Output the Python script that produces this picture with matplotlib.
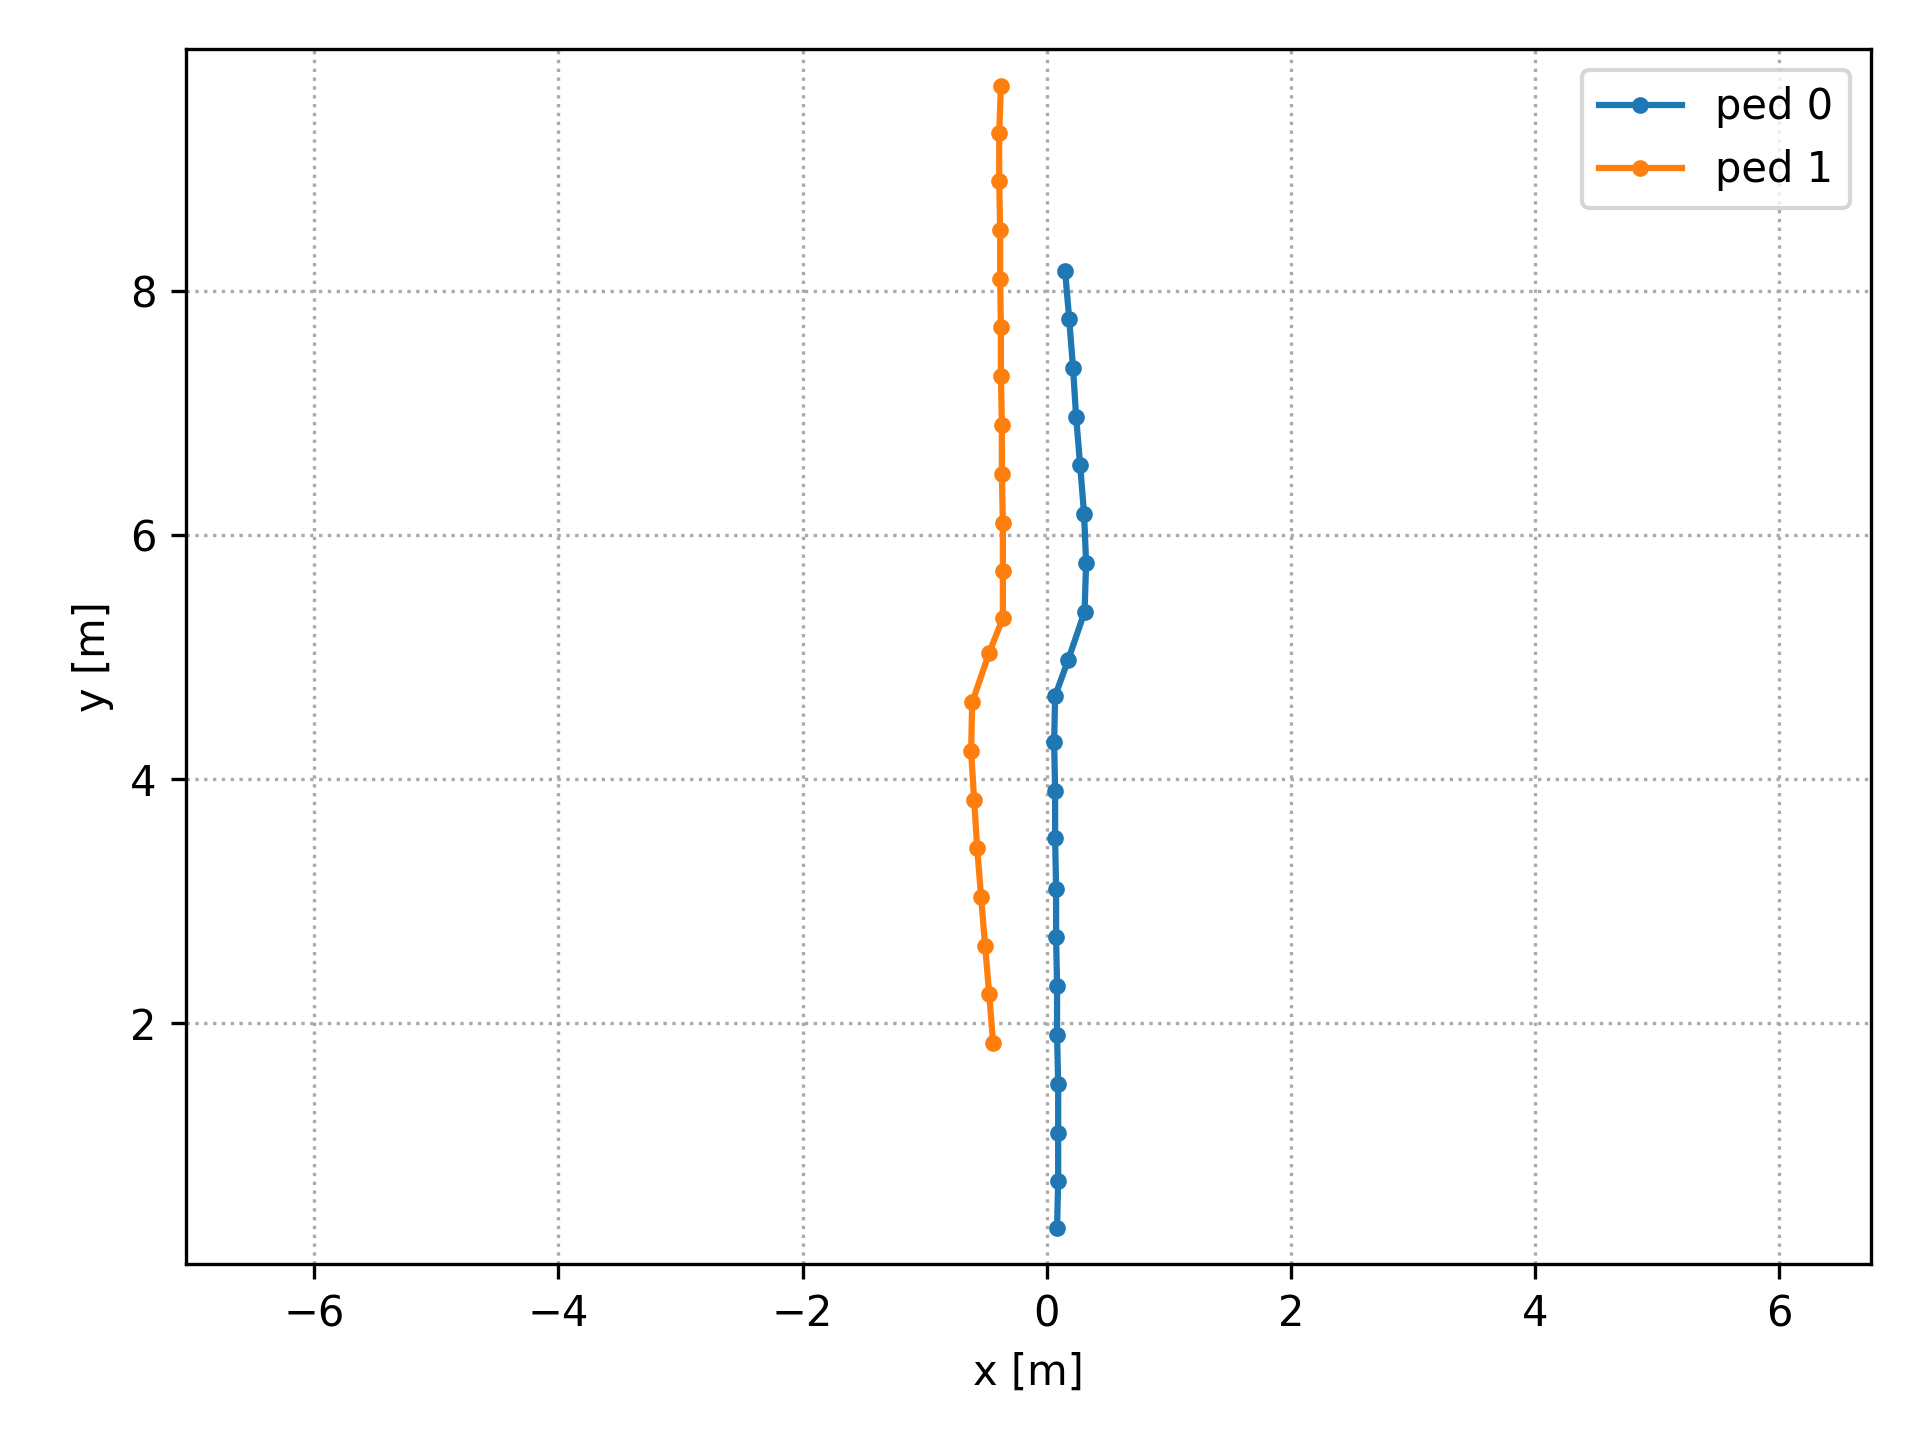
import matplotlib
matplotlib.use("Agg")
import matplotlib.pyplot as plt

ped0_x = [0.084, 0.093, 0.093, 0.093, 0.084, 0.084, 0.076, 0.076, 0.068, 0.068, 0.060, 0.068,
          0.175, 0.309, 0.322, 0.305, 0.273, 0.240, 0.215, 0.183, 0.150]
ped0_y = [0.327, 0.711, 1.100, 1.503, 1.904, 2.310, 2.707, 3.100, 3.517, 3.904, 4.303, 4.682,
          4.977, 5.370, 5.771, 6.172, 6.573, 6.966, 7.367, 7.771, 8.161]

ped1_x = [-0.440, -0.472, -0.505, -0.538, -0.570, -0.595, -0.620, -0.611, -0.472, -0.360, -0.360,
          -0.360, -0.368, -0.368, -0.376, -0.376, -0.382, -0.382, -0.390, -0.390, -0.376]
ped1_y = [1.840, 2.242, 2.633, 3.034, 3.435, 3.830, 4.229, 4.630, 5.036, 5.318, 5.705,
          6.096, 6.500, 6.900, 7.304, 7.700, 8.093, 8.494, 8.896, 9.290, 9.676]

labels = ["ped 0", "ped 1"]
xticks = [-6, -4, -2, 0, 2, 4, 6]
yticks = [2, 4, 6, 8]

fig = plt.figure(figsize=(6.4, 4.8), dpi=300)
ax = fig.add_axes([186/1920, 1 - 1264/1440, (1871 - 186)/1920, (1264 - 49)/1440])
ax.plot(ped0_x, ped0_y, marker='.', label=labels[0])
ax.plot(ped1_x, ped1_y, marker='.', label=labels[1])
ax.set_xlim(-7.05, 6.75)
ax.set_ylim(0.03, 9.98)
ax.set_xticks(xticks)
ax.set_yticks(yticks)
ax.grid(True, linestyle=':', color='#aaaaaa')
ax.set_xlabel("x [m]")
ax.set_ylabel("y [m]")
ax.legend(loc='upper right')
fig.savefig("out.png", dpi=300)
